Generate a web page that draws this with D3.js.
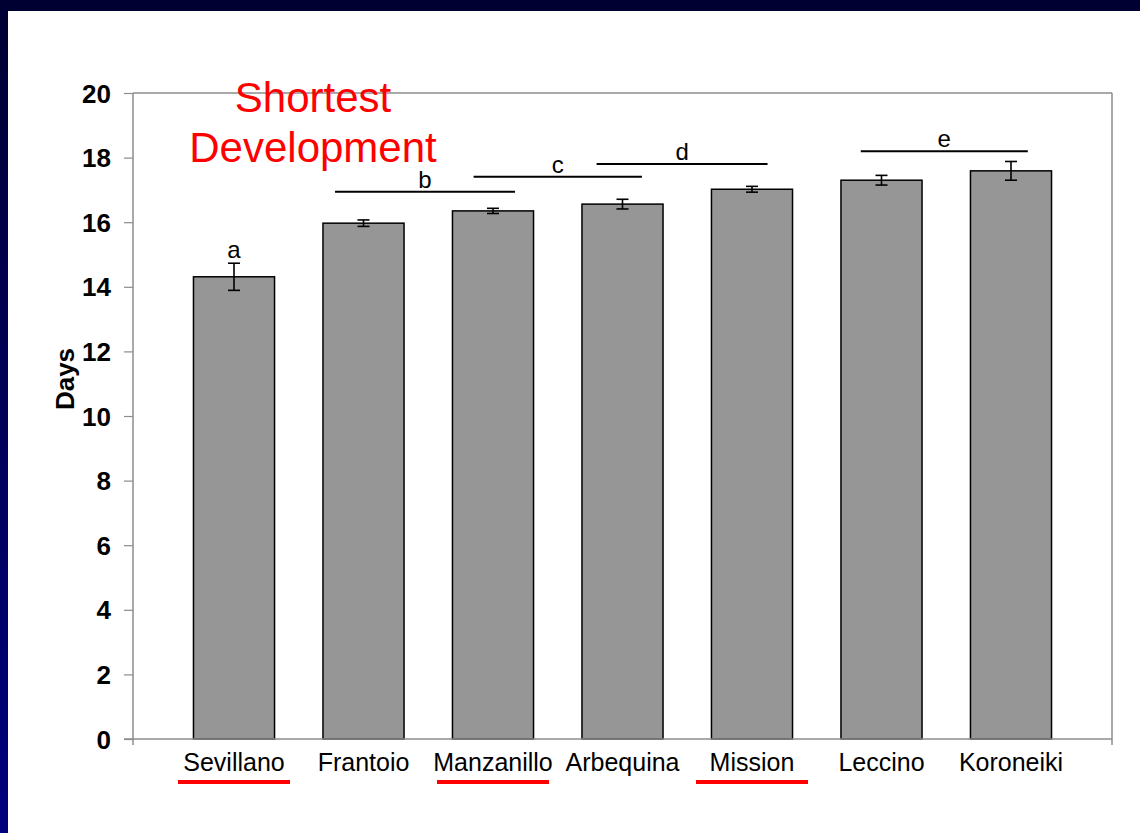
<!DOCTYPE html>
<html>
<head>
<meta charset="utf-8">
<script src="https://cdn.jsdelivr.net/npm/d3@7/dist/d3.min.js"></script>
<style>
  html, body { margin: 0; padding: 0; background: #ffffff; }
  svg { display: block; }
  text { font-family: "Liberation Sans", Arial, Helvetica, sans-serif; }
</style>
</head>
<body>
<svg id="chart" width="1140" height="833"></svg>
<script>
// Olive cultivars and mean development time (days) with error
const cultivars = ["Sevillano", "Frantoio", "Manzanillo", "Arbequina", "Mission", "Leccino", "Koroneiki"];
const days      = [14.31, 15.97, 16.35, 16.56, 17.02, 17.30, 17.59];
const errors    = [0.42, 0.10, 0.08, 0.15, 0.09, 0.15, 0.29];
const yTicks    = [0, 2, 4, 6, 8, 10, 12, 14, 16, 18, 20];

// Cultivars highlighted with a red underline
const highlighted = ["Sevillano", "Manzanillo", "Mission"];

// Significance groups: letter, span in category positions, height in days
const groupLetters = ["b", "c", "d", "e"];
const groupFrom    = [0.78, 1.85, 2.80, 4.84];
const groupTo      = [2.17, 3.15, 4.12, 6.13];
const groupLevel   = [16.94, 17.41, 17.80, 18.20];

const W = 1140, H = 833;
const margin = { top: 93, right: 28, bottom: 94, left: 133 };
const svg = d3.select("#chart");

// Slide frame: dark top band and navy gradient left edge
const defs = svg.append("defs");
const grad = defs.append("linearGradient").attr("id", "edge")
  .attr("x1", 0).attr("y1", 0).attr("x2", 0).attr("y2", 1);
grad.append("stop").attr("offset", "0%").attr("stop-color", "#000033");
grad.append("stop").attr("offset", "100%").attr("stop-color", "#00007e");
svg.append("rect").attr("x", 0).attr("y", 0).attr("width", W).attr("height", H).attr("fill", "#ffffff");
svg.append("rect").attr("x", 0).attr("y", 0).attr("width", 8).attr("height", H).attr("fill", "url(#edge)");
svg.append("rect").attr("x", 0).attr("y", 0).attr("width", W).attr("height", 11).attr("fill", "#000033");

const x = d3.scaleBand()
  .domain(cultivars)
  .range([margin.left, W - margin.right])
  .paddingInner(0.374)
  .paddingOuter(0.467);
const y = d3.scaleLinear().domain([0, 20]).range([H - margin.bottom, margin.top]);

const step = x.step();
const center = i => x(cultivars[0]) + x.bandwidth() / 2 + i * step;

const axisColor = "#8c8c8c";
const x0 = margin.left, x1 = W - margin.right, yB = y(0), yT = y(20);

// Plot frame (top and right edges)
svg.append("line").attr("x1", x0).attr("x2", x1).attr("y1", yT).attr("y2", yT)
  .attr("stroke", axisColor).attr("stroke-width", 1.5);
svg.append("line").attr("x1", x1).attr("x2", x1).attr("y1", yT).attr("y2", yB + 6)
  .attr("stroke", axisColor).attr("stroke-width", 1.5);

// Y axis
const yAxis = d3.axisLeft(y).tickValues(yTicks).tickSize(9).tickPadding(13).tickFormat(d3.format("d"));
const gy = svg.append("g").attr("transform", `translate(${x0},0)`).call(yAxis);
gy.select(".domain").remove();
gy.selectAll(".tick line").attr("stroke", axisColor).attr("stroke-width", 1.2);
gy.selectAll(".tick text")
  .attr("fill", "#000").attr("font-size", 26).attr("font-weight", "bold")
  .attr("font-family", "'Liberation Sans', Arial, sans-serif")
  .attr("dy", "0.35em");
svg.append("line").attr("x1", x0).attr("x2", x0).attr("y1", yT).attr("y2", yB + 6)
  .attr("stroke", axisColor).attr("stroke-width", 1.5);

// X axis
const xAxis = d3.axisBottom(x).tickSize(0).tickPadding(14);
const gx = svg.append("g").attr("transform", `translate(0,${yB})`).call(xAxis);
gx.select(".domain").remove();
gx.selectAll(".tick text")
  .attr("fill", "#000").attr("font-size", 25)
  .attr("font-family", "'Liberation Sans', Arial, sans-serif");

// Bars
svg.append("g").selectAll("rect").data(cultivars).join("rect")
  .attr("x", d => x(d))
  .attr("y", (d, i) => y(days[i]))
  .attr("width", x.bandwidth())
  .attr("height", (d, i) => yB - y(days[i]))
  .attr("fill", "#969696")
  .attr("stroke", "#000").attr("stroke-width", 1.5);

svg.append("line").attr("x1", x0 - 9).attr("x2", x1).attr("y1", yB).attr("y2", yB)
  .attr("stroke", axisColor).attr("stroke-width", 1.5);

// Error bars
const eb = svg.append("g").attr("stroke", "#000").attr("stroke-width", 1.6);
cultivars.forEach((c, i) => {
  const cx = x(c) + x.bandwidth() / 2;
  const hi = y(days[i] + errors[i]), lo = y(days[i] - errors[i]);
  eb.append("line").attr("x1", cx).attr("x2", cx).attr("y1", hi).attr("y2", lo);
  eb.append("line").attr("x1", cx - 6).attr("x2", cx + 6).attr("y1", hi).attr("y2", hi);
  eb.append("line").attr("x1", cx - 6).attr("x2", cx + 6).attr("y1", lo).attr("y2", lo);
});

// Red underline under highlighted cultivar names
gx.selectAll(".tick").each(function(d) {
  if (!highlighted.includes(d)) return;
  const bb = this.querySelector("text").getBBox();
  const cx = bb.x + bb.width / 2;
  d3.select(this).append("rect")
    .attr("x", cx - 56).attr("y", 41).attr("width", 112).attr("height", 4)
    .attr("fill", "#ff0000");
});

// Significance letter "a" over the first cultivar
svg.append("text")
  .attr("x", center(0)).attr("y", y(days[0] + errors[0]) - 5)
  .attr("text-anchor", "middle").attr("font-size", 24).attr("fill", "#000")
  .text("a");

// Grouping lines with letters
const sig = svg.append("g");
groupLetters.forEach((L, i) => {
  const xa = center(groupFrom[i]), xb = center(groupTo[i]), yy = y(groupLevel[i]);
  sig.append("line").attr("x1", xa).attr("x2", xb).attr("y1", yy).attr("y2", yy)
    .attr("stroke", "#000").attr("stroke-width", 2);
  sig.append("text").attr("x", (xa + xb) / 2).attr("y", yy - 4)
    .attr("text-anchor", "middle").attr("font-size", 24).attr("fill", "#000")
    .text(L);
});

// Y axis title
svg.append("text")
  .attr("transform", "translate(74,379) rotate(-90)")
  .attr("text-anchor", "middle").attr("font-size", 26).attr("font-weight", "bold")
  .attr("fill", "#000").text("Days");

// Red callout
const callout = svg.append("text").attr("text-anchor", "middle").attr("font-size", 42).attr("fill", "#ff0000");
callout.append("tspan").attr("x", 313).attr("y", 112).text("Shortest");
callout.append("tspan").attr("x", 313).attr("y", 162).text("Development");
</script>
</body>
</html>
